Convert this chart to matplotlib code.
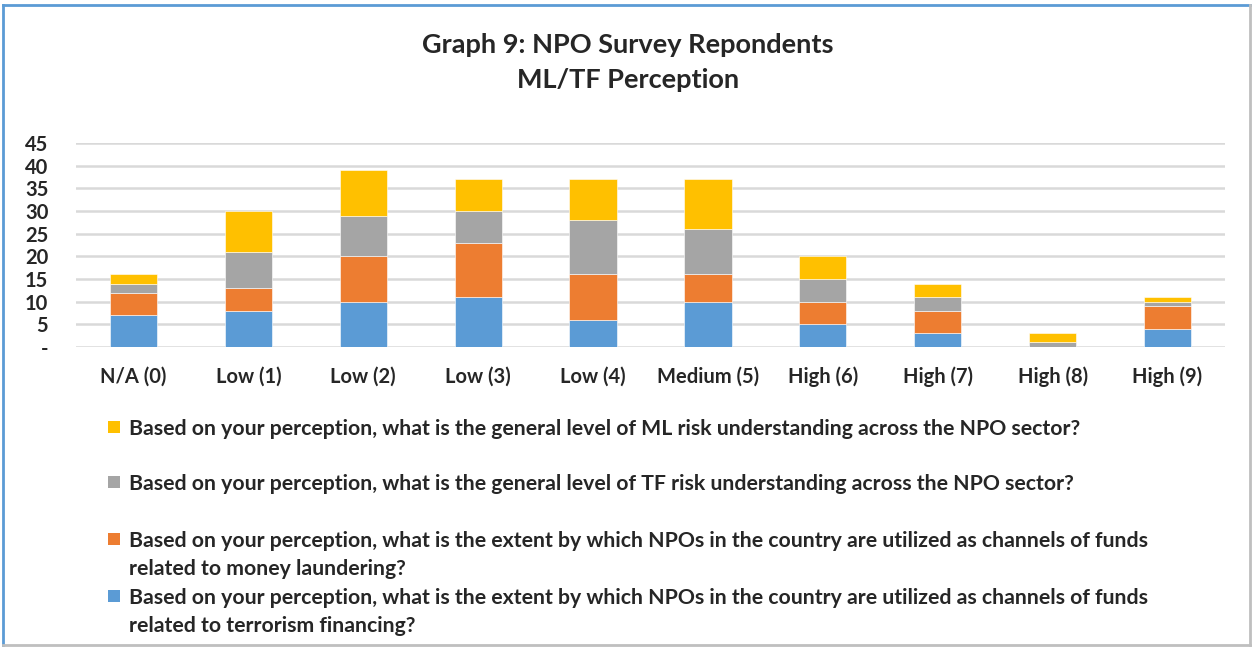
import matplotlib
matplotlib.use("Agg")
import matplotlib.pyplot as plt
from matplotlib.patches import Rectangle
from matplotlib.lines import Line2D

plt.rcParams['font.family'] = ['Lato', 'DejaVu Sans']
plt.rcParams['font.weight'] = 'bold'

categories = ['N/A (0)', 'Low (1)', 'Low (2)', 'Low (3)', 'Low (4)',
              'Medium (5)', 'High (6)', 'High (7)', 'High (8)', 'High (9)']
tf_funds = [7, 8, 10, 11, 6, 10, 5, 3, 0, 4]
ml_funds = [5, 5, 10, 12, 10, 6, 5, 5, 0, 5]
tf_understanding = [2, 8, 9, 7, 12, 10, 5, 3, 1, 1]
ml_understanding = [2, 9, 10, 7, 9, 11, 5, 3, 2, 1]

series_labels = [
    'Based on your perception, what is the extent by which NPOs in the country are utilized as channels of funds\nrelated to terrorism financing?',
    'Based on your perception, what is the extent by which NPOs in the country are utilized as channels of funds\nrelated to money laundering?',
    'Based on your perception, what is the general level of TF risk understanding across the NPO sector?',
    'Based on your perception, what is the general level of ML risk understanding across the NPO sector?',
]
colors = ['#5B9BD5', '#ED7D31', '#A5A5A5', '#FFC000']
yticks = [0, 5, 10, 15, 20, 25, 30, 35, 40, 45]
ytick_labels = ['-'] + [str(v) for v in yticks[1:]]

fig = plt.figure(figsize=(12.54, 6.48), dpi=100)
W, H = 1254, 648
ax = fig.add_axes([76 / W, 1 - 347 / H, (1225 - 76) / W, (347 - 143) / H])

series = [tf_funds, ml_funds, tf_understanding, ml_understanding]
x = list(range(len(categories)))
bottom = [0] * len(categories)
for vals, c in zip(series, colors):
    ax.bar(x, vals, bottom=bottom, width=0.41, color=c, edgecolor='white', linewidth=0.4, zorder=3)
    bottom = [b + v for b, v in zip(bottom, vals)]

ax.set_xlim(-0.5, len(categories) - 0.5)
ax.set_ylim(0, 45)
ax.set_yticks(yticks)
ax.set_yticklabels(ytick_labels, fontsize=14.5, color='#262626')
ax.set_xticks(x)
ax.set_xticklabels(categories, fontsize=14.5, color='#262626')
ax.tick_params(length=0)
ax.tick_params(axis='x', pad=14)
ax.tick_params(axis='y', pad=20)
ax.yaxis.grid(True, color='#D9D9D9', linewidth=1.8, zorder=0)
for s in ax.spines.values():
    s.set_visible(False)

fig.text(628 / W, 1 - 45 / H, 'Graph 9: NPO Survey Repondents', ha='center', va='center',
         fontsize=19.5, color='#262626')
fig.text(628 / W, 1 - 80 / H, 'ML/TF Perception', ha='center', va='center',
         fontsize=19.5, color='#262626')

# legend, reversed order like Excel
leg_y = [427, 482, 539, 596]
for yy, lab, c in zip(leg_y, series_labels[::-1], colors[::-1]):
    fig.patches.append(Rectangle((108 / W, 1 - (yy + 6) / H), 12 / W, 12 / H,
                                 transform=fig.transFigure, facecolor=c, edgecolor='none'))
    fig.text(129 / W, 1 - (yy - 8) / H, lab, ha='left', va='top', fontsize=15.3,
             color='#262626', linespacing=1.5)

# chart border
fig.add_artist(Line2D([3 / W, 1250 / W], [1 - 5 / H, 1 - 5 / H], color='#5B9BD5', lw=2))
fig.add_artist(Line2D([3 / W, 3 / W], [1 - 5 / H, 1 - 645 / H], color='#5B9BD5', lw=2))
fig.add_artist(Line2D([1250 / W, 1250 / W], [1 - 5 / H, 1 - 645 / H], color='#BFBFBF', lw=2))
fig.add_artist(Line2D([3 / W, 1250 / W], [1 - 645 / H, 1 - 645 / H], color='#BFBFBF', lw=2))

fig.savefig('out.png', dpi=100)
